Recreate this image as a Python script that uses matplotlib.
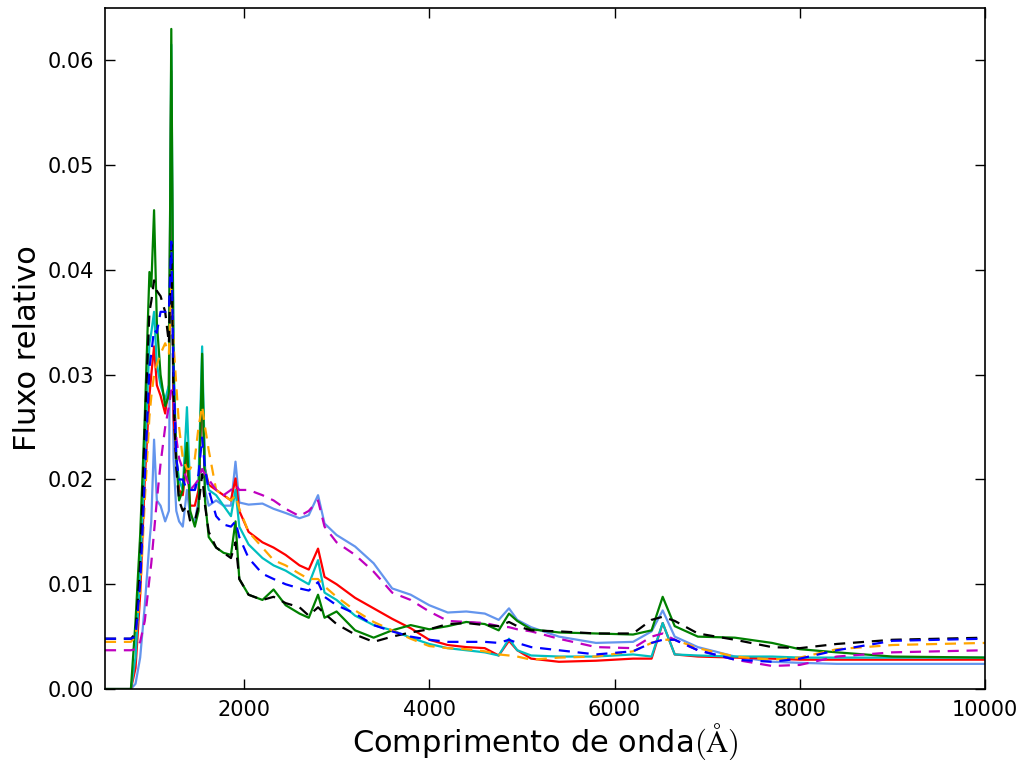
import matplotlib
matplotlib.use('Agg')
import matplotlib.pyplot as plt

# wavelength grid (Angstrom) shared by every template
wavelength = [500, 780, 830, 880, 930, 980, 1000, 1030, 1060, 1100,
              1150, 1190, 1216, 1240, 1270, 1300, 1340, 1385, 1420, 1470,
              1510, 1549, 1580, 1620, 1700, 1780, 1860, 1909, 1950, 2050,
              2200, 2320, 2450, 2600, 2700, 2800, 2870, 3000, 3200, 3400,
              3600, 3800, 4000, 4200, 4400, 4600, 4750, 4861, 4950, 5100,
              5400, 5800, 6200, 6400, 6520, 6650, 6900, 7300, 7700, 8000,
              8400, 9000, 10000]

flux_lightblue = [0, 0, 0.0005, 0.003, 0.008, 0.014, 0.016, 0.0238, 0.018, 0.0175,
                  0.016, 0.017, 0.058, 0.022, 0.017, 0.016, 0.0155, 0.019, 0.0165, 0.016,
                  0.018, 0.030, 0.019, 0.0175, 0.018, 0.0175, 0.0175, 0.0217, 0.0178, 0.0176,
                  0.0177, 0.0172, 0.0168, 0.0163, 0.0166, 0.0185, 0.0158, 0.0147, 0.0136, 0.0120,
                  0.0096, 0.0090, 0.0080, 0.0073, 0.0074, 0.0072, 0.0066, 0.0077, 0.0066, 0.0059,
                  0.0050, 0.0044, 0.0045, 0.0055, 0.0075, 0.0050, 0.0040, 0.0031, 0.0026, 0.0025,
                  0.0024, 0.0024, 0.0024]

flux_red = [0, 0, 0.002, 0.009, 0.020, 0.028, 0.030, 0.0327, 0.029, 0.028,
            0.0263, 0.029, 0.059, 0.026, 0.022, 0.019, 0.0185, 0.022, 0.0175, 0.0175,
            0.019, 0.029, 0.021, 0.0195, 0.019, 0.0185, 0.018, 0.0201, 0.0170, 0.0150,
            0.0140, 0.0135, 0.0128, 0.0118, 0.0114, 0.0134, 0.0107, 0.0100, 0.0087, 0.0077,
            0.0067, 0.0058, 0.0047, 0.0042, 0.0040, 0.0039, 0.0032, 0.0046, 0.0037, 0.0029,
            0.0026, 0.0027, 0.0029, 0.0029, 0.0063, 0.0033, 0.0031, 0.0030, 0.0029, 0.0028,
            0.0028, 0.0028, 0.0028]

flux_cyan = [0, 0, 0.003, 0.011, 0.022, 0.033, 0.034, 0.036, 0.031, 0.029,
             0.0276, 0.029, 0.0615, 0.032, 0.022, 0.020, 0.019, 0.0269, 0.019, 0.019,
             0.020, 0.0327, 0.021, 0.019, 0.0185, 0.0175, 0.0165, 0.019, 0.0155, 0.0138,
             0.0125, 0.0118, 0.0113, 0.0105, 0.0100, 0.0123, 0.0092, 0.0085, 0.0070, 0.0061,
             0.0056, 0.0049, 0.0043, 0.0039, 0.0037, 0.0035, 0.0032, 0.0048, 0.0037, 0.0032,
             0.0031, 0.0031, 0.0033, 0.0031, 0.0063, 0.0033, 0.0032, 0.0031, 0.0031, 0.0030,
             0.0030, 0.0030, 0.0030]

flux_green = [0, 0, 0.0065, 0.0147, 0.026, 0.0398, 0.0384, 0.0457, 0.035, 0.030,
              0.027, 0.028, 0.063, 0.030, 0.022, 0.018, 0.019, 0.0235, 0.017, 0.0155,
              0.017, 0.032, 0.018, 0.0145, 0.0135, 0.013, 0.0128, 0.016, 0.0105, 0.009,
              0.0085, 0.0095, 0.008, 0.0072, 0.0068, 0.009, 0.0068, 0.0074, 0.0056, 0.0049,
              0.0056, 0.0061, 0.0057, 0.0060, 0.0064, 0.0062, 0.0056, 0.0072, 0.0065, 0.0057,
              0.0054, 0.0053, 0.0052, 0.0056, 0.0088, 0.0060, 0.0050, 0.0049, 0.0044, 0.0038,
              0.0035, 0.0031, 0.0030]

flux_orange = [0.0045, 0.0045, 0.005, 0.009, 0.018, 0.026, 0.0279, 0.030, 0.031, 0.032,
               0.033, 0.032, 0.0384, 0.033, 0.029, 0.025, 0.022, 0.021, 0.021, 0.022,
               0.025, 0.027, 0.025, 0.0228, 0.019, 0.0185, 0.0180, 0.0185, 0.0172, 0.015,
               0.0135, 0.0123, 0.0118, 0.0110, 0.0105, 0.0105, 0.0098, 0.0088, 0.0075, 0.0064,
               0.0056, 0.0048, 0.0041, 0.0039, 0.0038, 0.0036, 0.0033, 0.0032, 0.0031, 0.0028,
               0.0030, 0.0031, 0.0036, 0.0044, 0.0047, 0.0047, 0.0039, 0.0031, 0.0028, 0.0030,
               0.0038, 0.0042, 0.0044]

flux_magenta = [0.0037, 0.0037, 0.0038, 0.0045, 0.0065, 0.0105, 0.012, 0.015, 0.018, 0.0215,
                0.025, 0.027, 0.0285, 0.028, 0.024, 0.022, 0.021, 0.020, 0.019, 0.0195,
                0.020, 0.021, 0.0205, 0.020, 0.019, 0.0185, 0.019, 0.0195, 0.019, 0.019,
                0.0185, 0.018, 0.0172, 0.0165, 0.017, 0.018, 0.0155, 0.0140, 0.0128, 0.0112,
                0.0092, 0.0085, 0.0074, 0.0065, 0.0064, 0.0063, 0.0060, 0.0059, 0.0057, 0.0055,
                0.0048, 0.0040, 0.0039, 0.0050, 0.0053, 0.0047, 0.0037, 0.0028, 0.0022, 0.0023,
                0.0031, 0.0035, 0.0037]

flux_blue = [0.0048, 0.0048, 0.0050, 0.010, 0.020, 0.0307, 0.032, 0.0343, 0.034, 0.036,
             0.036, 0.036, 0.0427, 0.030, 0.022, 0.020, 0.020, 0.019, 0.019, 0.019,
             0.0205, 0.024, 0.021, 0.019, 0.0165, 0.0157, 0.0155, 0.016, 0.0145, 0.0125,
             0.011, 0.0105, 0.0100, 0.0096, 0.0094, 0.0102, 0.0088, 0.0080, 0.0072, 0.0061,
             0.0055, 0.0050, 0.0047, 0.0045, 0.0045, 0.0045, 0.0044, 0.0047, 0.0044, 0.0040,
             0.0037, 0.0033, 0.0036, 0.0044, 0.0047, 0.0047, 0.0037, 0.0028, 0.0026, 0.0029,
             0.0037, 0.0046, 0.0048]

flux_black = [0.0048, 0.0048, 0.0053, 0.012, 0.025, 0.036, 0.037, 0.039, 0.038, 0.0375,
              0.036, 0.033, 0.0425, 0.028, 0.021, 0.018, 0.017, 0.0175, 0.016, 0.016,
              0.0175, 0.0205, 0.0175, 0.015, 0.0135, 0.013, 0.0125, 0.014, 0.0105, 0.009,
              0.0085, 0.0088, 0.0082, 0.0078, 0.0070, 0.0078, 0.0072, 0.0062, 0.0052, 0.0045,
              0.0050, 0.0054, 0.0057, 0.0062, 0.0063, 0.0061, 0.0060, 0.0064, 0.0060, 0.0056,
              0.0055, 0.0053, 0.0053, 0.0066, 0.0069, 0.0065, 0.0053, 0.0047, 0.0040, 0.0039,
              0.0043, 0.0047, 0.0049]

plt.rcParams['mathtext.fontset'] = 'cm'

fig = plt.figure(figsize=(10.24, 7.6), dpi=100)
ax = fig.add_axes([0.1025, 0.0934, 0.8595, 0.8961])

lw = 1.6
dash = (5, 3.5)
ax.plot(wavelength, flux_lightblue, color='cornflowerblue', lw=lw)
ax.plot(wavelength, flux_red, color='r', lw=lw)
ax.plot(wavelength, flux_cyan, color='c', lw=lw)
ax.plot(wavelength, flux_green, color='g', lw=lw)
ax.plot(wavelength, flux_orange, color='orange', lw=lw, dashes=dash)
ax.plot(wavelength, flux_magenta, color='m', lw=lw, dashes=dash)
ax.plot(wavelength, flux_black, color='k', lw=lw, dashes=dash)
ax.plot(wavelength, flux_blue, color='b', lw=lw, dashes=dash)

ax.set_xlim(500, 10000)
ax.set_ylim(0, 0.065)
ax.set_xticks([2000, 4000, 6000, 8000, 10000])
ax.set_yticks([0.0, 0.01, 0.02, 0.03, 0.04, 0.05, 0.06])
ax.set_yticklabels(['0.00', '0.01', '0.02', '0.03', '0.04', '0.05', '0.06'])
ax.tick_params(direction='in', top=True, right=True, length=7, width=1, labelsize=15, pad=8)
for s in ax.spines.values():
    s.set_linewidth(1.2)

ax.set_xlabel('Comprimento de onda$(\\mathrm{\\AA})$', fontsize=22, labelpad=1)
ax.set_ylabel('Fluxo relativo', fontsize=22)

fig.savefig('out.png', dpi=100)
